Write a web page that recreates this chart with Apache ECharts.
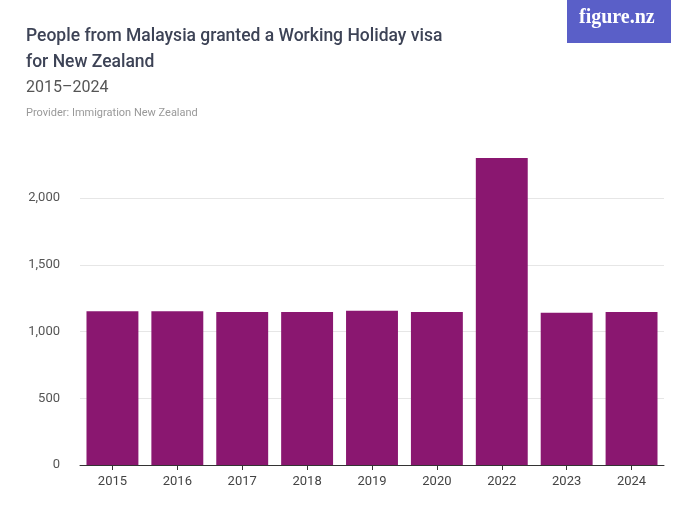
<!DOCTYPE html>
<html>
<head>
<meta charset="UTF-8">
<title>Working Holiday visas - Malaysia</title>
<script src="https://cdn.jsdelivr.net/npm/echarts@6/dist/echarts.min.js"></script>
<style>
  html, body { margin: 0; padding: 0; background: #fff; }
  #main { width: 700px; height: 525px; }
</style>
</head>
<body>
<div id="main"></div>
<script>
// data
var years = ['2015', '2016', '2017', '2018', '2019', '2020', '2022', '2023', '2024'];
var granted = [1152, 1151, 1147, 1147, 1155, 1147, 2300, 1140, 1147];

var chart = echarts.init(document.getElementById('main'));
var font = 'Roboto, "Liberation Sans", sans-serif';

chart.setOption({
  animation: false,
  graphic: [
    { type: 'rect', left: 567, top: 0, shape: { width: 104, height: 43 }, style: { fill: '#5a5fc8' } },
    { type: 'text', left: 579, top: 8, style: { text: 'figure.nz', fill: '#fff', font: 'bold 20px "Liberation Serif", serif' } },
    { type: 'text', left: 26, top: 24, style: { text: 'People from Malaysia granted a Working Holiday visa\nfor New Zealand', fill: '#3d4356', font: '500 17.5px "Liberation Sans Narrow", ' + font, lineHeight: 26 } },
    { type: 'text', left: 26, top: 80, style: { text: '2015–2024', fill: '#555', font: '16px "Liberation Sans Narrow", ' + font } },
    { type: 'text', left: 26, top: 108, style: { text: 'Provider: Immigration New Zealand', fill: '#999', font: '11px "Liberation Sans Narrow", ' + font } }
  ],
  grid: { left: 80, right: 36, top: 158, bottom: 60 },
  xAxis: {
    type: 'category',
    data: years,
    axisLine: { lineStyle: { color: '#333' } },
    axisTick: { show: true, alignWithLabel: true, length: 5, lineStyle: { color: '#333' } },
    axisLabel: { color: '#444', fontFamily: font, fontSize: 13, margin: 10 }
  },
  yAxis: {
    type: 'value',
    min: 0,
    max: 2300,
    interval: 500,
    axisLabel: {
      color: '#555', fontFamily: font, fontSize: 13, showMaxLabel: false, margin: 20,
      formatter: function (v) { return v.toLocaleString('en-US'); }
    },
    splitLine: { showMaxLine: false, lineStyle: { color: '#e6e6e6' } }
  },
  series: [{
    type: 'bar',
    data: granted,
    barCategoryGap: '20%',
    itemStyle: { color: '#8a1770' }
  }]
});
</script>
</body>
</html>
